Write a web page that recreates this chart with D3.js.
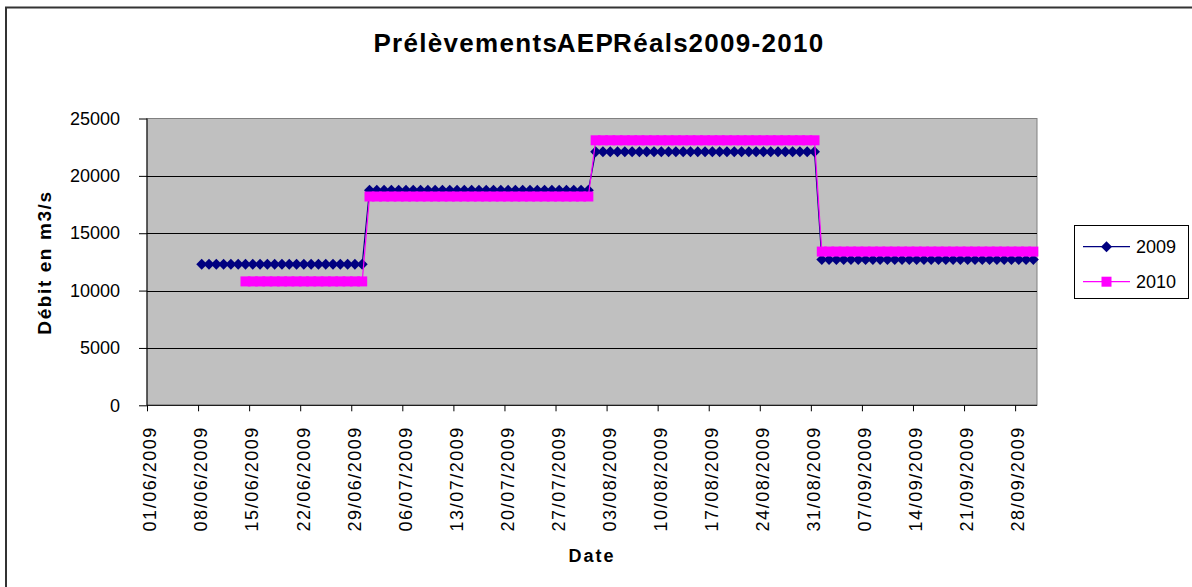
<!DOCTYPE html>
<html>
<head>
<meta charset="utf-8">
<title>Prélèvements AEP Réals 2009-2010</title>
<script src="https://cdn.jsdelivr.net/npm/d3@7"></script>
<style>
  body { margin: 0; background: #fff; }
  svg { display: block; font-family: "Liberation Sans", Arial, sans-serif; }
</style>
</head>
<body>
<div id="chart"></div>
<script>
// weekly tick labels of the date axis
var tickLabels = ["01/06/2009", "08/06/2009", "15/06/2009", "22/06/2009", "29/06/2009",
    "06/07/2009", "13/07/2009", "20/07/2009", "27/07/2009", "03/08/2009", "10/08/2009",
    "17/08/2009", "24/08/2009", "31/08/2009", "07/09/2009", "14/09/2009", "21/09/2009",
    "28/09/2009"];
var axisStart = "01/06/2009", axisEnd = "01/10/2009";
var yTicks = [0, 5000, 10000, 15000, 20000, 25000];

// daily values, one per day starting at the first date
var start2009 = "08/06/2009";
var values2009 = [
    // juin
    12300, 12300, 12300, 12300, 12300, 12300, 12300, 12300, 12300, 12300,
    12300, 12300, 12300, 12300, 12300, 12300, 12300, 12300, 12300, 12300,
    12300, 12300, 12300,
    // juillet
    18750, 18750, 18750, 18750, 18750, 18750, 18750, 18750, 18750, 18750,
    18750, 18750, 18750, 18750, 18750, 18750, 18750, 18750, 18750, 18750,
    18750, 18750, 18750, 18750, 18750, 18750, 18750, 18750, 18750, 18750,
    18750,
    // aout
    22100, 22100, 22100, 22100, 22100, 22100, 22100, 22100, 22100, 22100,
    22100, 22100, 22100, 22100, 22100, 22100, 22100, 22100, 22100, 22100,
    22100, 22100, 22100, 22100, 22100, 22100, 22100, 22100, 22100, 22100,
    22100,
    // septembre
    12700, 12700, 12700, 12700, 12700, 12700, 12700, 12700, 12700, 12700,
    12700, 12700, 12700, 12700, 12700, 12700, 12700, 12700, 12700, 12700,
    12700, 12700, 12700, 12700, 12700, 12700, 12700, 12700, 12700, 12700
];
var start2010 = "14/06/2009";
var values2010 = [
    // juin
    10800, 10800, 10800, 10800, 10800, 10800, 10800, 10800, 10800, 10800,
    10800, 10800, 10800, 10800, 10800, 10800, 10800,
    // juillet
    18200, 18200, 18200, 18200, 18200, 18200, 18200, 18200, 18200, 18200,
    18200, 18200, 18200, 18200, 18200, 18200, 18200, 18200, 18200, 18200,
    18200, 18200, 18200, 18200, 18200, 18200, 18200, 18200, 18200, 18200,
    18200,
    // aout
    23100, 23100, 23100, 23100, 23100, 23100, 23100, 23100, 23100, 23100,
    23100, 23100, 23100, 23100, 23100, 23100, 23100, 23100, 23100, 23100,
    23100, 23100, 23100, 23100, 23100, 23100, 23100, 23100, 23100, 23100,
    23100,
    // septembre
    13400, 13400, 13400, 13400, 13400, 13400, 13400, 13400, 13400, 13400,
    13400, 13400, 13400, 13400, 13400, 13400, 13400, 13400, 13400, 13400,
    13400, 13400, 13400, 13400, 13400, 13400, 13400, 13400, 13400, 13400
];

(function() {
var w = 1192, h = 587,
    plotL = 147, plotR = 1037, plotT = 118.5, plotB = 405.3;
var parse = d3.timeParse("%d/%m/%Y");

function toPoints(start, vals) {
    var d0 = parse(start);
    return vals.map(function(v, i) {
        return { date: d3.timeHour.offset(d3.timeDay.offset(d0, i), 12), value: v };
    });
}
var s2009 = toPoints(start2009, values2009),
    s2010 = toPoints(start2010, values2010);

var x = d3.scaleTime().domain([parse(axisStart), parse(axisEnd)]).range([plotL, plotR]);
var y = d3.scaleLinear().domain([0, 25000]).range([plotB, plotT]);

var svg = d3.select('#chart').append('svg').attr('width', w).attr('height', h);

// outer frame
svg.append('rect')
    .attr('x', 6).attr('y', 7.5).attr('width', 1220).attr('height', 620)
    .attr('fill', 'none').attr('stroke', '#333').attr('stroke-width', 2);

// plot area
svg.append('rect')
    .attr('x', plotL).attr('y', plotT).attr('width', plotR - plotL).attr('height', plotB - plotT)
    .attr('fill', '#c0c0c0').attr('stroke', '#808080').attr('stroke-width', 1);

// gridlines
svg.append('g').selectAll('line')
    .data(yTicks.filter(function(d) { return d > 0 && d < 25000; }))
    .enter().append('line')
    .attr('x1', plotL).attr('x2', plotR)
    .attr('y1', function(d) { return Math.round(y(d)) + 0.5; })
    .attr('y2', function(d) { return Math.round(y(d)) + 0.5; })
    .attr('stroke', '#000').attr('stroke-width', 1);

// y axis
var yAxis = svg.append('g')
    .attr('transform', 'translate(' + plotL + ',0)')
    .call(d3.axisLeft(y).tickValues(yTicks).tickSize(8).tickPadding(19).tickFormat(d3.format('d')));
yAxis.selectAll('text')
    .attr('font-size', '18px').attr('fill', '#000')
    .attr('font-family', '"Liberation Sans", Arial, sans-serif');
yAxis.selectAll('line, path').attr('stroke', '#000');
yAxis.select('.domain').attr('d', 'M0,' + plotT + 'V' + plotB);

// x axis
var xAxis = svg.append('g')
    .attr('transform', 'translate(0,' + plotB + ')')
    .call(d3.axisBottom(x).tickValues(tickLabels.map(parse)).tickSize(6)
        .tickFormat(d3.timeFormat('%d/%m/%Y')));
xAxis.selectAll('line, path').attr('stroke', '#000');
xAxis.select('.domain').attr('d', 'M' + plotL + ',0H' + plotR);
xAxis.selectAll('text')
    .attr('font-size', '18px').attr('fill', '#000')
    .attr('font-family', '"Liberation Sans", Arial, sans-serif')
    .attr('letter-spacing', '1.5px')
    .attr('text-anchor', 'end')
    .attr('transform', 'rotate(-90)')
    .attr('x', -21).attr('y', 2.5).attr('dy', '0.35em');

// series
var line = d3.line()
    .x(function(d) { return x(d.date); })
    .y(function(d) { return y(d.value); });

function drawSeries(data, color, size, rot) {
    var g = svg.append('g');
    g.append('path').datum(data)
        .attr('d', line).attr('fill', 'none')
        .attr('stroke', color).attr('stroke-width', 1.2);
    g.selectAll('path.mk').data(data).enter().append('path')
        .attr('class', 'mk')
        .attr('d', d3.symbol().type(d3.symbolSquare).size(size))
        .attr('transform', function(d) {
            return 'translate(' + x(d.date) + ',' + y(d.value) + ') rotate(' + rot + ')';
        })
        .attr('fill', color);
}
drawSeries(s2009, '#000080', 60, 45);   // diamonds
drawSeries(s2010, '#ff00ff', 100, 0);   // squares

// titles
svg.append('text')
    .attr('x', 599).attr('y', 51.5).attr('text-anchor', 'middle')
    .attr('font-size', '26px').attr('font-weight', 'bold')
    .attr('letter-spacing', '1.3px').attr('word-spacing', '-9px')
    .text('Prélèvements AEP Réals 2009-2010');

svg.append('text')
    .attr('x', 592).attr('y', 561.5).attr('text-anchor', 'middle')
    .attr('font-size', '18px').attr('font-weight', 'bold')
    .attr('letter-spacing', '2px')
    .text('Date');

svg.append('text')
    .attr('transform', 'translate(51,262.5) rotate(-90)')
    .attr('text-anchor', 'middle')
    .attr('font-size', '19px').attr('font-weight', 'bold')
    .attr('letter-spacing', '1.6px')
    .text('Débit en m3/s');

// legend
var legend = svg.append('g');
legend.append('rect')
    .attr('x', 1074.5).attr('y', 225.5).attr('width', 114).attr('height', 73)
    .attr('fill', '#fff').attr('stroke', '#000').attr('stroke-width', 1);
var legendItems = [
    { name: '2009', color: '#000080', size: 60, rot: 45, y: 246.7 },
    { name: '2010', color: '#ff00ff', size: 100, rot: 0, y: 281.7 }
];
legendItems.forEach(function(it) {
    legend.append('line')
        .attr('x1', 1083).attr('x2', 1130).attr('y1', it.y).attr('y2', it.y)
        .attr('stroke', it.color).attr('stroke-width', 1.2);
    legend.append('path')
        .attr('d', d3.symbol().type(d3.symbolSquare).size(it.size))
        .attr('transform', 'translate(1106.5,' + it.y + ') rotate(' + it.rot + ')')
        .attr('fill', it.color);
    legend.append('text')
        .attr('x', 1136).attr('y', it.y + 6.5)
        .attr('font-size', '18px').attr('fill', '#000')
        .text(it.name);
});
})();
</script>
</body>
</html>
